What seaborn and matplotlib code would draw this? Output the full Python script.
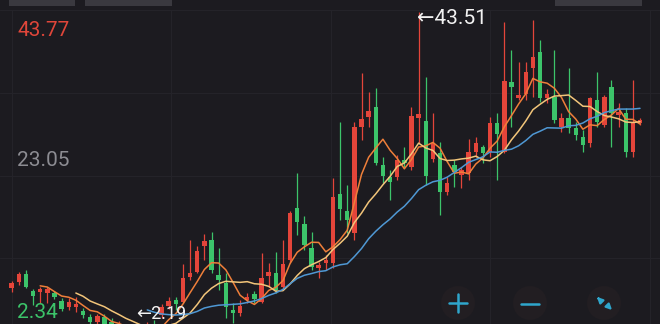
import numpy as np
import pandas as pd
import matplotlib
matplotlib.use("Agg")
import matplotlib.pyplot as plt
import seaborn as sns
from matplotlib.patches import Rectangle, Circle

# ---- data ----
opens = [8.97, 9.72, 10.72, 8.60, 8.47, 8.35, 8.35, 7.34, 6.59, 6.59,
         6.09, 5.34, 4.72, 5.34, 4.72, 3.46, 3.97, 3.46, 2.46, 3.21,
         4.47, 5.59, 6.72, 7.47, 7.22, 10.35, 10.97, 14.23, 14.98, 10.60,
         9.60, 6.22, 5.84, 7.47, 8.22, 7.22, 10.47, 10.85, 9.10, 12.48,
         18.98, 16.98, 13.98, 11.47, 12.10, 12.10, 20.74, 18.61, 15.86, 29.12,
         30.38, 31.63, 24.37, 22.86, 22.86, 24.99, 24.12, 30.25, 29.87, 25.12,
         25.87, 20.99, 24.37, 23.12, 23.37, 25.99, 26.62, 25.99, 29.62, 25.99,
         34.76, 32.75, 33.26, 36.51, 38.51, 32.75, 32.88, 29.12, 30.25, 29.00,
         27.87, 27.12, 32.50, 29.37, 34.13, 30.63, 30.88, 25.99, 29.62]
highs = [9.85, 10.97, 11.22, 8.85, 9.10, 9.10, 8.60, 7.72, 7.72, 7.84,
         6.47, 5.72, 5.72, 5.72, 5.22, 4.84, 4.34, 3.84, 3.59, 4.72,
         4.97, 6.97, 7.84, 7.84, 11.97, 14.98, 14.23, 15.73, 15.98, 13.98,
         10.85, 7.09, 7.47, 8.35, 8.60, 13.35, 12.10, 13.48, 14.98, 18.61,
         23.37, 17.98, 15.98, 12.23, 13.10, 22.74, 29.75, 21.86, 29.75, 35.88,
         33.50, 34.01, 25.37, 23.74, 25.62, 26.62, 31.63, 43.51, 35.38, 30.88,
         27.25, 22.86, 24.99, 24.12, 27.62, 27.87, 26.87, 30.38, 30.88, 42.27,
         38.76, 37.26, 37.26, 42.52, 40.01, 33.88, 38.76, 30.88, 36.51, 29.75,
         28.75, 32.88, 36.01, 33.13, 35.01, 32.13, 31.50, 35.01, 30.25]
lows = [8.47, 9.35, 8.97, 6.84, 7.09, 7.09, 7.59, 6.09, 6.22, 5.97,
        5.22, 4.47, 4.34, 3.97, 3.22, 2.96, 2.59, 2.34, 2.19, 2.84,
        3.34, 5.22, 6.34, 6.22, 7.09, 9.97, 10.85, 12.48, 10.85, 8.72,
        5.22, 4.59, 5.47, 7.09, 7.09, 7.09, 9.10, 8.35, 8.72, 12.10,
        15.61, 13.73, 11.22, 10.22, 11.22, 11.47, 17.48, 15.86, 14.98, 27.50,
        29.12, 24.37, 22.11, 19.99, 22.49, 24.12, 23.74, 27.12, 21.86, 24.74,
        18.11, 20.61, 21.61, 21.49, 22.49, 25.37, 24.62, 25.37, 22.49, 25.87,
        29.12, 32.50, 32.50, 32.88, 32.25, 32.13, 29.62, 28.50, 28.37, 27.50,
        25.99, 26.62, 29.12, 29.12, 26.62, 29.12, 25.37, 25.37, 29.37]
closes = [9.60, 10.72, 9.10, 7.97, 8.85, 8.85, 7.84, 6.34, 7.22, 6.97,
          5.59, 4.72, 5.47, 4.47, 3.72, 4.34, 2.96, 2.46, 3.21, 4.21,
          3.72, 6.59, 7.34, 6.97, 10.22, 10.85, 13.60, 14.85, 11.22, 9.97,
          6.59, 5.84, 6.72, 7.84, 7.59, 10.22, 10.97, 8.72, 11.97, 18.36,
          17.23, 14.35, 11.60, 11.85, 12.48, 20.36, 18.86, 17.48, 29.12, 30.12,
          31.13, 24.62, 22.99, 22.24, 24.99, 24.62, 30.50, 30.75, 22.99, 27.12,
          20.99, 22.11, 23.49, 23.74, 25.99, 27.12, 25.87, 29.62, 28.25, 34.88,
          34.13, 33.13, 36.01, 37.89, 32.75, 33.26, 30.00, 30.25, 29.00, 28.12,
          26.87, 32.75, 29.75, 32.88, 30.88, 31.00, 25.99, 29.62, 30.00]
ma_windows = [5, 10, 20]
axis_labels = ["43.77", "23.05", "2.34"]
axis_values = [43.77, 23.05, 2.34]
high_label = "43.51"
low_label = "2.19"

# ---- style ----
BG = "#1c1b20"
RED = "#e4453a"
GREEN = "#3cc46a"
MA_COLORS = ["#ef7f3a", "#f2c57a", "#4f98d4"]
GRID = "#242329"
CYAN = "#2fa6cc"

sns.set_theme(style="dark")
plt.rcParams['font.family'] = ['Roboto', 'DejaVu Sans']

fig = plt.figure(figsize=(6.6, 3.24), dpi=100, facecolor=BG)
ax = fig.add_axes([0, 0, 1, 1])
ax.set_facecolor(BG)

df = pd.DataFrame({"i": np.arange(len(closes)), "open": opens, "high": highs,
                   "low": lows, "close": closes})
up = df["close"] >= df["open"]
cols = np.where(up, RED, GREEN)

# grid
top, bottom = axis_values[0], axis_values[-1]
for k in range(4):
    ax.axhline(top - k * (top - bottom) / 4, color=GRID, lw=0.8, zorder=0)
ylo, yhi = 4.47, 45.02
for xv in [0.06, 22.3, 44.7, 67.0, 89.4]:
    ax.axvline(xv, ymax=(top - ylo) / (yhi - ylo), color=GRID, lw=0.8, zorder=0)

# candles
ax.vlines(df["i"], df["low"], df["high"], colors=cols, lw=0.9, zorder=2)
body = (df["close"] - df["open"]).abs().clip(lower=0.15)
ax.bar(df["i"], body, bottom=np.minimum(df["open"], df["close"]), width=0.62,
       color=cols, linewidth=0, zorder=3)

# moving averages
for w, c in zip(ma_windows, MA_COLORS):
    ma = df["close"].rolling(w).mean()
    sns.lineplot(x=df["i"], y=ma, color=c, lw=1.1, ax=ax, zorder=4)

ax.set_xlim(-1.625, 90.8)
ax.set_ylim(ylo, yhi)
ax.set_xticks([]); ax.set_yticks([])
ax.set_xlabel(""); ax.set_ylabel("")
for s in ax.spines.values():
    s.set_visible(False)

# ---- overlay in pixel coordinates ----
ov = fig.add_axes([0, 0, 1, 1])
ov.set_xlim(0, 660); ov.set_ylim(324, 0)
ov.axis("off")

for (x0, w) in [(9, 66), (85, 87), (555, 87)]:
    ov.add_patch(Rectangle((x0, -2), w, 7.5, color="#3a393f", lw=0))

label_colors = ["#e0463a", "#8c8c92", GREEN]
label_y = [30, 160, 313]
for t, c, yy in zip(axis_labels, label_colors, label_y):
    ov.text(17, yy, t, color=c, fontsize=15, va="center", ha="left")

ov.text(417, 18, "\u2190" + high_label, color="#f2f2f2", fontsize=15,
        va="center", ha="left", family=['Roboto', 'DejaVu Sans'])
ov.text(136, 314, "\u2190" + low_label, color="#f2f2f2", fontsize=13,
        va="center", ha="left", family=['Roboto', 'DejaVu Sans'])

# zoom buttons
for cx in [458, 530, 604]:
    ov.add_patch(Circle((cx, 303), 17, color="#221e22", lw=0))
ov.plot([449, 467], [303, 303], color=CYAN, lw=1.8)
ov.plot([458, 458], [294, 312], color=CYAN, lw=1.8)
ov.plot([521, 539], [304, 304], color=CYAN, lw=1.8)
ov.annotate("", xy=(595, 295), xytext=(602, 302),
            arrowprops=dict(arrowstyle="-|>", color=CYAN, lw=1.6, mutation_scale=8))
ov.annotate("", xy=(614, 312), xytext=(607, 305),
            arrowprops=dict(arrowstyle="-|>", color=CYAN, lw=1.6, mutation_scale=8))

fig.savefig("out.png", dpi=100, facecolor=BG)
